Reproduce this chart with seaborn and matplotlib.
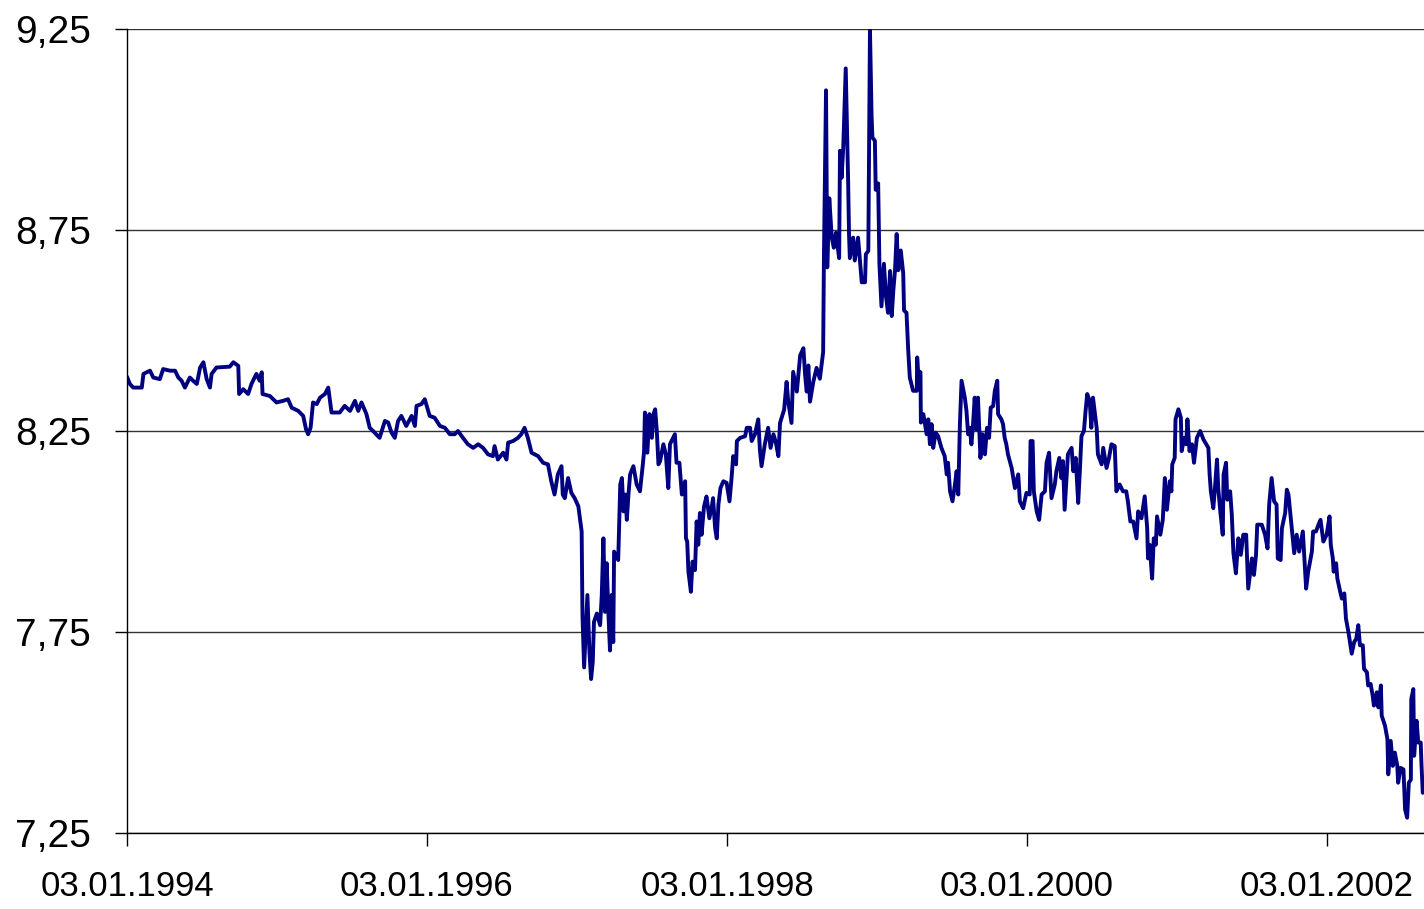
import pandas as pd
import matplotlib
matplotlib.use("Agg")
import matplotlib.pyplot as plt
import matplotlib.dates as mdates
from matplotlib.ticker import FuncFormatter
import seaborn as sns

# values, one pair of lists per year (MM-DD, rate)
d1994 = ["01-03", "01-10", "01-18", "02-08", "02-12", "02-28", "03-08", "03-24", "04-01", "04-18",
         "04-30", "05-08", "05-16", "05-24", "06-05", "06-13", "06-22", "06-30", "07-08", "07-16",
         "07-24", "07-28", "08-09", "09-10", "09-19", "10-01", "10-03", "10-13", "10-25", "11-02",
         "11-14", "11-22", "11-27", "11-29", "12-17"]
v1994 = [8.385, 8.367, 8.358, 8.358, 8.392, 8.400, 8.383, 8.379, 8.404, 8.400,
         8.400, 8.383, 8.375, 8.358, 8.383, 8.375, 8.367, 8.408, 8.421, 8.379,
         8.358, 8.392, 8.408, 8.410, 8.421, 8.412, 8.342, 8.354, 8.342, 8.367,
         8.392, 8.375, 8.396, 8.342, 8.337]

d1995 = ["01-02", "01-18", "01-30", "02-08", "02-24", "03-08", "03-15", "03-20", "03-26", "04-01",
         "04-10", "04-18", "04-30", "05-08", "05-16", "06-05", "06-17", "06-30", "07-12", "07-20",
         "07-28", "08-09", "08-17", "08-29", "09-10", "09-23", "10-01", "10-09", "10-17", "10-25",
         "11-02", "11-14", "11-27", "12-05", "12-09", "12-21", "12-29"]
v1995 = [8.321, 8.325, 8.329, 8.308, 8.300, 8.2875, 8.254, 8.242, 8.258, 8.321,
         8.317, 8.333, 8.342, 8.358, 8.296, 8.296, 8.3125, 8.300, 8.325, 8.300,
         8.321, 8.292, 8.258, 8.246, 8.233, 8.275, 8.271, 8.246, 8.233, 8.275,
         8.2875, 8.2625, 8.2875, 8.2625, 8.3125, 8.317, 8.329]

d1996 = ["01-10", "01-22", "02-04", "02-16", "02-28", "03-11", "03-19", "03-31", "04-12", "04-25",
         "05-07", "05-19", "05-31", "06-12", "06-16", "06-24", "07-07", "07-15", "07-19", "07-31",
         "08-12", "08-20", "08-28", "09-05", "09-14", "09-30", "10-12", "10-24", "11-01", "11-09",
         "11-17", "11-26", "11-29", "12-04", "12-12", "12-20", "12-28"]
v1996 = [8.2875, 8.283, 8.2625, 8.258, 8.242, 8.242, 8.250, 8.233, 8.217, 8.208,
         8.217, 8.208, 8.192, 8.1875, 8.2125, 8.179, 8.196, 8.179, 8.221, 8.225,
         8.233, 8.242, 8.258, 8.233, 8.196, 8.1875, 8.171, 8.167, 8.125, 8.092,
         8.142, 8.1625, 8.092, 8.083, 8.133, 8.096, 8.083]

d1997 = ["01-06", "01-14", "01-16", "01-20", "01-28", "02-02", "02-06", "02-10", "02-13", "02-20",
         "02-28", "03-04", "03-08", "03-12", "03-16", "03-20", "03-24", "03-28", "04-01", "04-03",
         "04-13", "04-18", "04-22", "04-26", "04-30", "05-04", "05-08", "05-12", "05-20", "05-28",
         "06-05", "06-12", "06-15", "06-17", "06-23", "06-28", "07-04", "07-08", "07-12", "07-16",
         "07-20", "07-24", "08-01", "08-07", "08-13", "08-17", "08-29", "09-02", "09-09", "09-15",
         "09-23", "09-25", "09-28", "10-01", "10-07", "10-11", "10-17", "10-21", "10-25", "10-29",
         "11-02", "11-08", "11-14", "11-21", "11-27", "11-30", "12-05", "12-09", "12-13", "12-18",
         "12-25"]
v1997 = [8.0625, 8.000, 7.792, 7.662, 7.842, 7.700, 7.633, 7.675, 7.775, 7.796,
         7.767, 7.842, 7.983, 7.800, 7.921, 7.800, 7.704, 7.842, 7.725, 7.950,
         7.929, 8.117, 8.133, 8.050, 8.092, 8.029, 8.092, 8.142, 8.1625, 8.117,
         8.100, 8.167, 8.200, 8.296, 8.196, 8.292, 8.233, 8.292, 8.304, 8.250,
         8.167, 8.175, 8.217, 8.192, 8.108, 8.217, 8.242, 8.171, 8.171, 8.092,
         8.125, 7.983, 7.975, 7.900, 7.850, 7.925, 7.904, 8.025, 7.967, 8.046,
         7.992, 8.0625, 8.087, 8.033, 8.0625, 8.083, 8.008, 7.983, 8.067, 8.108,
         8.125]

d1998 = ["01-02", "01-09", "01-14", "01-18", "01-25", "01-27", "02-04", "02-16", "02-20", "02-28",
         "03-04", "03-12", "03-20", "03-24", "03-28", "04-05", "04-13", "04-19", "04-26", "05-02",
         "05-08", "05-12", "05-22", "05-28", "06-01", "06-09", "06-13", "06-22", "06-30", "07-08",
         "07-12", "07-16", "07-20", "07-24", "08-01", "08-09", "08-17", "08-25", "08-27", "09-01",
         "09-04", "09-09", "09-15", "09-20", "09-25", "10-03", "10-05", "10-09", "10-13", "10-19",
         "10-25", "10-27", "10-29", "11-06", "11-10", "11-18", "11-27", "12-05", "12-07", "12-13",
         "12-17", "12-21", "12-23", "12-29", "12-31"]
v1998 = [8.121, 8.075, 8.133, 8.1875, 8.167, 8.225, 8.233, 8.237, 8.258, 8.258,
         8.225, 8.242, 8.279, 8.204, 8.1625, 8.217, 8.258, 8.208, 8.242, 8.221,
         8.1875, 8.270, 8.303, 8.372, 8.323, 8.270, 8.397, 8.348, 8.438, 8.456,
         8.390, 8.348, 8.413, 8.323, 8.372, 8.407, 8.380, 8.446, 8.690, 9.0975,
         8.657, 8.829, 8.731, 8.706, 8.743, 8.680, 8.947, 8.880, 8.956, 9.152,
         8.864, 8.740, 8.680, 8.731, 8.674, 8.731, 8.620, 8.620, 8.690, 8.698,
         9.250, 9.031, 8.980, 8.972, 8.850]

d1999 = ["01-06", "01-09", "01-14", "01-20", "01-25", "01-30", "02-04", "02-08", "02-12", "02-16",
         "02-20", "02-24", "03-02", "03-08", "03-10", "03-16", "03-20", "03-24", "04-01", "04-10",
         "04-11", "04-13", "04-19", "04-20", "04-26", "05-04", "05-08", "05-12", "05-16", "05-20",
         "05-26", "06-01", "06-09", "06-17", "06-22", "06-25", "06-30", "07-06", "07-12", "07-16",
         "07-20", "07-24", "07-28", "08-05", "08-09", "08-13", "08-17", "08-21", "08-25", "08-29",
         "09-02", "09-06", "09-12", "09-17", "09-23", "09-28", "10-03", "10-07", "10-13", "10-17",
         "10-23", "10-25", "11-02", "11-06", "11-10", "11-14", "11-18", "11-27", "12-05", "12-13",
         "12-17", "12-25"]
v1999 = [8.866, 8.666, 8.560, 8.666, 8.585, 8.544, 8.648, 8.536, 8.601, 8.650,
         8.740, 8.650, 8.699, 8.642, 8.550, 8.544, 8.454, 8.383, 8.350, 8.350,
         8.433, 8.400, 8.396, 8.271, 8.292, 8.242, 8.279, 8.217, 8.267, 8.208,
         8.246, 8.237, 8.208, 8.1875, 8.142, 8.171, 8.100, 8.075, 8.117, 8.150,
         8.092, 8.267, 8.375, 8.333, 8.300, 8.242, 8.258, 8.217, 8.267, 8.333,
         8.254, 8.333, 8.183, 8.242, 8.192, 8.258, 8.233, 8.308, 8.312, 8.350,
         8.375, 8.292, 8.279, 8.267, 8.233, 8.217, 8.192, 8.158, 8.108, 8.142,
         8.075, 8.058]

d2000 = ["01-02", "01-10", "01-12", "01-17", "01-20", "01-27", "02-02", "02-08", "02-16", "02-20",
         "02-26", "03-03", "03-11", "03-15", "03-22", "03-27", "03-31", "04-04", "04-09", "04-12",
         "04-21", "04-25", "05-01", "05-07", "05-11", "05-15", "05-21", "05-25", "05-29", "06-04",
         "06-08", "06-12", "06-21", "06-24", "07-03", "07-07", "07-15", "07-21", "07-27", "08-04",
         "08-08", "08-16", "08-24", "09-01", "09-05", "09-11", "09-18", "09-26", "09-30", "10-08",
         "10-16", "10-22", "10-24", "10-28", "11-03", "11-07", "11-12", "11-15", "11-23", "11-29",
         "12-04", "12-09", "12-16", "12-20", "12-22", "12-28", "12-30"]
v2000 = [8.096, 8.092, 8.225, 8.225, 8.100, 8.050, 8.029, 8.092, 8.100, 8.171,
         8.196, 8.083, 8.117, 8.150, 8.183, 8.133, 8.175, 8.054, 8.142, 8.192,
         8.208, 8.150, 8.183, 8.071, 8.150, 8.2375, 8.250, 8.300, 8.342, 8.325,
         8.258, 8.333, 8.258, 8.192, 8.167, 8.208, 8.158, 8.183, 8.217, 8.2125,
         8.100, 8.117, 8.100, 8.100, 8.075, 8.025, 8.025, 7.983, 8.050, 8.033,
         8.0875, 8.008, 7.933, 7.967, 7.883, 7.983, 7.967, 8.0375, 7.992, 8.029,
         8.133, 8.054, 8.125, 8.100, 8.1667, 8.183, 8.279]

d2001 = ["01-06", "01-12", "01-14", "01-20", "01-25", "01-28", "02-02", "02-08", "02-13", "02-20",
         "02-28", "03-08", "03-15", "03-20", "03-23", "03-26", "04-01", "04-05", "04-10", "04-13",
         "04-18", "04-24", "04-26", "05-02", "05-05", "05-12", "05-16", "05-20", "05-26", "06-01",
         "06-07", "06-13", "06-20", "06-25", "07-04", "07-09", "07-14", "07-17", "07-28", "08-05",
         "08-11", "08-15", "08-21", "08-27", "09-02", "09-05", "09-12", "09-15", "09-23", "09-27",
         "10-01", "10-05", "10-15", "10-21", "10-27", "11-05", "11-13", "11-18", "11-27", "11-30",
         "12-07", "12-13", "12-18", "12-25"]
v2001 = [8.304, 8.283, 8.200, 8.233, 8.217, 8.279, 8.200, 8.217, 8.171, 8.233,
         8.250, 8.229, 8.217, 8.208, 8.142, 8.100, 8.058, 8.108, 8.179, 8.108,
         8.050, 7.992, 8.142, 8.171, 8.079, 8.100, 8.042, 7.946, 7.896, 7.983,
         7.942, 7.992, 7.992, 7.858, 7.933, 7.892, 7.942, 8.017, 8.017, 7.992,
         7.958, 8.067, 8.133, 8.075, 8.067, 7.933, 7.929, 8.008, 8.046, 8.104,
         8.092, 8.050, 7.946, 7.992, 7.950, 8.000, 7.858, 7.900, 7.950, 8.000,
         8.000, 8.017, 8.029, 7.975]

d2002 = ["01-02", "01-09", "01-12", "01-17", "01-19", "01-25", "01-28", "02-04", "02-08", "02-14",
         "02-18", "02-24", "03-04", "03-10", "03-15", "03-20", "03-24", "03-31", "04-03", "04-10",
         "04-13", "04-19", "04-24", "04-27", "05-04", "05-08", "05-14", "05-16", "05-24", "05-30",
         "06-01", "06-07", "06-12", "06-17", "06-23", "06-25", "07-01", "07-08", "07-12", "07-17",
         "07-21", "07-26", "07-27", "08-01", "08-03", "08-09", "08-13", "08-19", "08-21", "08-24"]
v2002 = [7.992, 8.0375, 7.967, 7.933, 7.900, 7.921, 7.883, 7.850, 7.833, 7.846,
         7.783, 7.750, 7.696, 7.725, 7.733, 7.767, 7.717, 7.717, 7.658, 7.650,
         7.617, 7.621, 7.592, 7.567, 7.600, 7.5625, 7.617, 7.542, 7.517, 7.483,
         7.396, 7.479, 7.417, 7.450, 7.417, 7.375, 7.412, 7.408, 7.308, 7.288,
         7.375, 7.383, 7.583, 7.608, 7.442, 7.529, 7.475, 7.475, 7.417, 7.350]

years = {1994: (d1994, v1994), 1995: (d1995, v1995), 1996: (d1996, v1996),
         1997: (d1997, v1997), 1998: (d1998, v1998), 1999: (d1999, v1999),
         2000: (d2000, v2000), 2001: (d2001, v2001), 2002: (d2002, v2002)}

tick_dates = ["1994-01-03", "1996-01-03", "1998-01-03", "2000-01-03", "2002-01-03"]
y_ticks = [7.25, 7.75, 8.25, 8.75, 9.25]
x_start, x_end = "1994-01-03", "2002-08-27"

frames = []
for yr, (days, vals) in years.items():
    assert len(days) == len(vals), yr
    frames.append(pd.DataFrame({"date": pd.to_datetime([f"{yr}-{d}" for d in days]),
                                "rate": vals}))
df = pd.concat(frames, ignore_index=True)

sns.set_theme(style="white")
plt.rcParams["font.family"] = ["Liberation Sans", "DejaVu Sans"]

fig = plt.figure(figsize=(14.24, 9.09), dpi=100)
ax = fig.add_axes([127 / 1424, 1 - 833 / 909, 1297 / 1424, 804 / 909])

sns.lineplot(data=df, x="date", y="rate", ax=ax, color="#000080",
             linewidth=2.8, estimator=None, sort=False)

ax.set_xlim(pd.Timestamp(x_start), pd.Timestamp(x_end))
ax.set_ylim(y_ticks[0], y_ticks[-1])
ax.set_xticks(pd.to_datetime(tick_dates))
ax.xaxis.set_major_formatter(mdates.DateFormatter("%d.%m.%Y"))
ax.set_yticks(y_ticks)
ax.yaxis.set_major_formatter(FuncFormatter(lambda v, _: f"{v:.2f}".replace(".", ",")))

ax.grid(axis="y", color="#333333", linewidth=1)
ax.grid(axis="x", visible=False)
for side in ["top", "right"]:
    ax.spines[side].set_visible(False)
for side in ["left", "bottom"]:
    ax.spines[side].set_color("black")
    ax.spines[side].set_linewidth(1)

ax.tick_params(axis="both", which="major", bottom=True, left=True, direction="out",
               length=9, width=1, color="black", labelcolor="black")
ax.tick_params(axis="y", pad=17, labelsize=28)
ax.tick_params(axis="x", pad=18, labelsize=25)
ax.set_xlabel("")
ax.set_ylabel("")

fig.savefig("out.png", dpi=100, facecolor="white")
